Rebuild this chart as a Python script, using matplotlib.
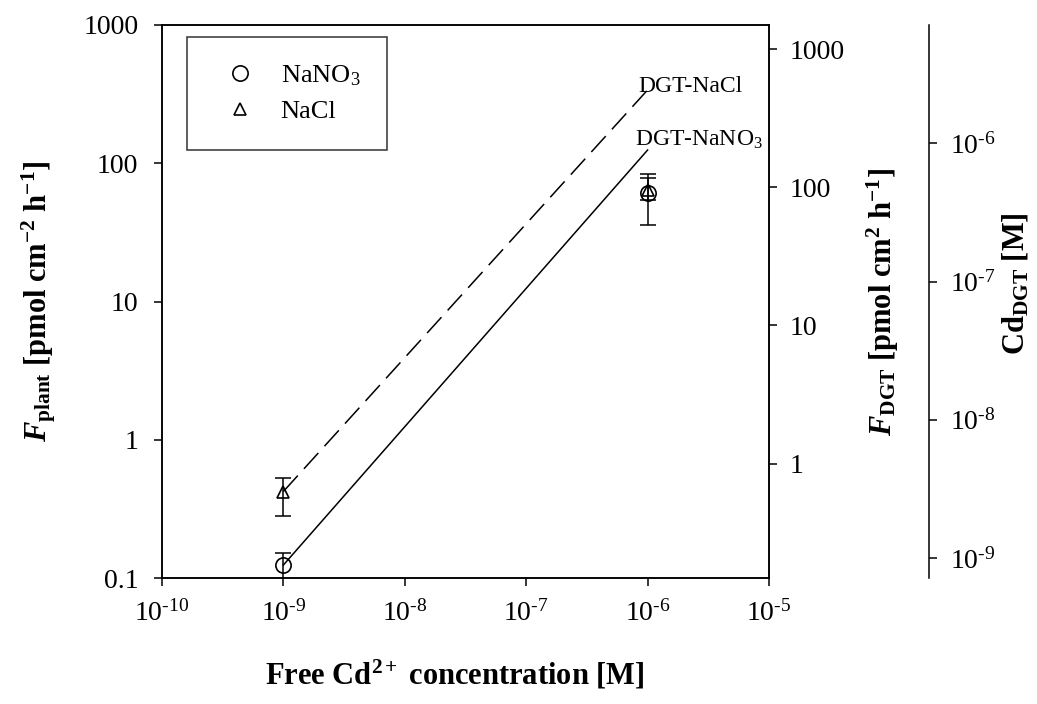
import numpy as np
import matplotlib
matplotlib.use('Agg')
import matplotlib.pyplot as plt
from matplotlib.ticker import FixedLocator, FixedFormatter, FuncFormatter, NullLocator

plt.rcParams['font.family'] = 'Liberation Serif'
plt.rcParams['mathtext.fontset'] = 'custom'
plt.rcParams['mathtext.rm'] = 'Liberation Serif'
plt.rcParams['mathtext.it'] = 'Liberation Serif:italic'
plt.rcParams['mathtext.bf'] = 'Liberation Serif:bold'
plt.rcParams['mathtext.bfit'] = 'Liberation Serif:italic:bold'

# free Cd2+ concentration [M]
conc = [1e-9, 1e-6]

# plant fluxes [pmol cm-2 h-1]
f_nano3 = [0.124, 61]
nano3_err_lo = [0.03, 25]
nano3_err_hi = [0.028, 23]
f_nacl = [0.42, 64]
nacl_err_lo = [0.14, 10]
nacl_err_hi = [0.11, 14]

# DGT fluxes (right axis)
dgt_nacl = [0.63, 506]
dgt_nano3 = [0.185, 186]

x_ticks = [1e-10, 1e-9, 1e-8, 1e-7, 1e-6, 1e-5]
left_ticks = [0.1, 1, 10, 100, 1000]
left_labels = ['0.1', '1', '10', '100', '1000']
dgt_ticks = [1, 10, 100, 1000]
dgt_labels = ['1', '10', '100', '1000']
cd_ticks = [1e-9, 1e-8, 1e-7, 1e-6]


def pow10(v, pos):
    e = int(round(np.log10(v)))
    return '10$^{\\text{%d}}$' % e


fig = plt.figure(figsize=(10.37, 7.04), dpi=100)
ax = fig.add_axes([162/1037, 1 - 578/704, 607/1037, 553/704])

ax.errorbar(conc, f_nano3, yerr=[nano3_err_lo, nano3_err_hi], fmt='none',
            ecolor='black', elinewidth=1.1, capsize=6, capthick=1.1, zorder=3)
ax.errorbar(conc, f_nacl, yerr=[nacl_err_lo, nacl_err_hi], fmt='none',
            ecolor='black', elinewidth=1.1, capsize=6, capthick=1.1, zorder=3)
ax.plot(conc, f_nano3, 'o', ms=11, mfc='none', mec='black', mew=1.2,
        linestyle='none', label='NaNO$_3$', zorder=4)
ax.plot(conc, f_nacl, '^', ms=9, mfc='none', mec='black', mew=1.2,
        linestyle='none', label='NaCl', zorder=4)

ax.set_xscale('log')
ax.set_yscale('log')
ax.set_xlim(1e-10, 1e-5)
ax.set_ylim(0.1, 1000)
ax.xaxis.set_major_locator(FixedLocator(x_ticks))
ax.xaxis.set_major_formatter(FuncFormatter(pow10))
ax.xaxis.set_minor_locator(NullLocator())
ax.yaxis.set_major_locator(FixedLocator(left_ticks))
ax.yaxis.set_major_formatter(FixedFormatter(left_labels))
ax.yaxis.set_minor_locator(NullLocator())
ax.tick_params(axis='both', direction='out', length=6, width=1.1, labelsize=20)
ax.tick_params(axis='y', pad=11)
ax.tick_params(axis='x', pad=10)
ax.tick_params(top=False, right=False)
for s in ax.spines.values():
    s.set_linewidth(1.1)

ax.set_xlabel('Free Cd$^{\\mathbf{2+}}$ concentration [M]', fontsize=22, fontweight='bold')
ax.xaxis.set_label_coords(0.483, -0.145)
ax.set_ylabel('$\\mathbfit{F}_{\\mathbf{plant}}$ [pmol cm$^{\\mathbf{-2}}$ h$^{\\mathbf{-1}}$]',
              fontsize=22, fontweight='bold')
ax.yaxis.set_label_coords(-0.172, 0.5)

leg = ax.legend(loc='upper left', bbox_to_anchor=(0.041, 0.978), borderaxespad=0,
                fontsize=19, frameon=True, fancybox=False, borderpad=1.0,
                labelspacing=0.44, handlelength=2.0, handletextpad=0.55)
leg.get_frame().set_edgecolor('black')
leg.get_frame().set_linewidth(1.1)

# DGT flux axis
ax2 = ax.twinx()
ax2.plot(conc, dgt_nacl, color='black', lw=1.1, linestyle=(0, (14, 6)))
ax2.plot(conc, dgt_nano3, color='black', lw=1.1)
ax2.set_yscale('log')
ax2.set_ylim(0.149, 1493)
ax2.yaxis.set_major_locator(FixedLocator(dgt_ticks))
ax2.yaxis.set_major_formatter(FixedFormatter(dgt_labels))
ax2.yaxis.set_minor_locator(NullLocator())
ax2.tick_params(axis='y', direction='out', length=6, width=1.1, labelsize=20, pad=9)
ax2.set_ylabel('$\\mathbfit{F}_{\\mathbf{DGT}}$ [pmol cm$^{\\mathbf{2}}$ h$^{\\mathbf{-1}}$]',
               fontsize=22, fontweight='bold')
ax2.yaxis.set_label_coords(1.158, 0.5)
for s in ax2.spines.values():
    s.set_linewidth(1.1)

ax2.text(0.784, 0.888, 'DGT-NaCl', transform=ax2.transAxes, fontsize=17, va='center', ha='left')
ax2.text(0.779, 0.792, 'DGT-NaNO$_3$', transform=ax2.transAxes, fontsize=17, va='center', ha='left')

# Cd DGT concentration axis
ax3 = ax.twinx()
ax3.spines['right'].set_position(('axes', (929 - 162) / 607))
for k in ['left', 'top', 'bottom']:
    ax3.spines[k].set_visible(False)
ax3.spines['right'].set_linewidth(1.1)
ax3.set_yscale('log')
ax3.set_ylim(7.17e-10, 7.17e-6)
ax3.yaxis.set_major_locator(FixedLocator(cd_ticks))
ax3.yaxis.set_major_formatter(FuncFormatter(pow10))
ax3.yaxis.set_minor_locator(NullLocator())
ax3.tick_params(axis='y', direction='out', length=6, width=1.1, labelsize=20, pad=9)
ax3.set_ylabel('Cd$_{\\mathbf{DGT}}$ [M]', fontsize=22, fontweight='bold')
ax3.yaxis.set_label_coords(1.381, 0.533)

fig.savefig('out.png', dpi=100)
